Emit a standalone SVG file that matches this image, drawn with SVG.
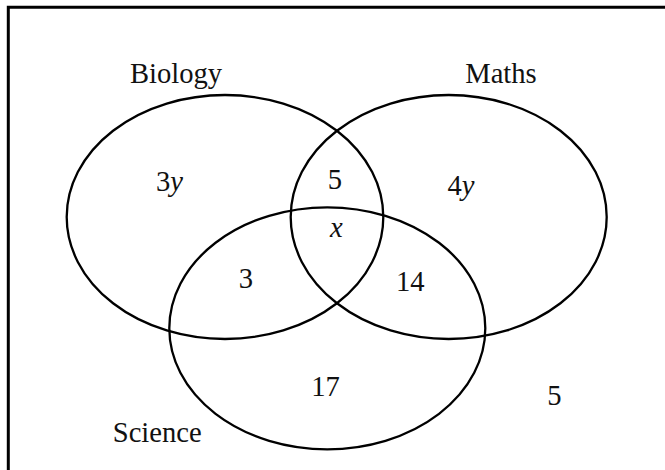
<svg xmlns="http://www.w3.org/2000/svg" width="665" height="470" viewBox="0 0 665 470">
<style>
.set{fill:none;stroke:#000;stroke-width:2.3}
.frame{fill:none;stroke:#000;stroke-width:3}
.t{font-family:'Liberation Serif','Times New Roman',Times,serif;font-size:28.6px;fill:#111}
.m{text-anchor:middle}
.i{font-style:italic}
</style>
<rect width="665" height="470" fill="#fff"/>
<path class="frame" d="M8.3,470 V7.2 H665"/>
<g id="biology">
<ellipse class="set" cx="225" cy="217" rx="158.3" ry="122"/>
<text class="t m" x="176" y="83.3">Biology</text>
</g>
<g id="maths">
<ellipse class="set" cx="448.7" cy="217" rx="158" ry="122"/>
<text class="t m" x="501" y="83.3">Maths</text>
</g>
<g id="science">
<ellipse class="set" cx="327.3" cy="328.3" rx="158" ry="121"/>
<text class="t m" x="157.2" y="441.7">Science</text>
</g>
<g id="regions">
<text class="t" x="156" y="191">3<tspan class="i">y</tspan></text>
<text class="t" x="447.5" y="194.5">4<tspan class="i">y</tspan></text>
<text class="t m" x="335" y="189.3">5</text>
<text class="t m i" x="336.3" y="237.3">x</text>
<text class="t m" x="246" y="287.7">3</text>
<text class="t m" x="410.3" y="291">14</text>
<text class="t m" x="325.5" y="395.7">17</text>
<text class="t m" x="554.3" y="405.3">5</text>
</g>
<g id="connectors"/>
</svg>
